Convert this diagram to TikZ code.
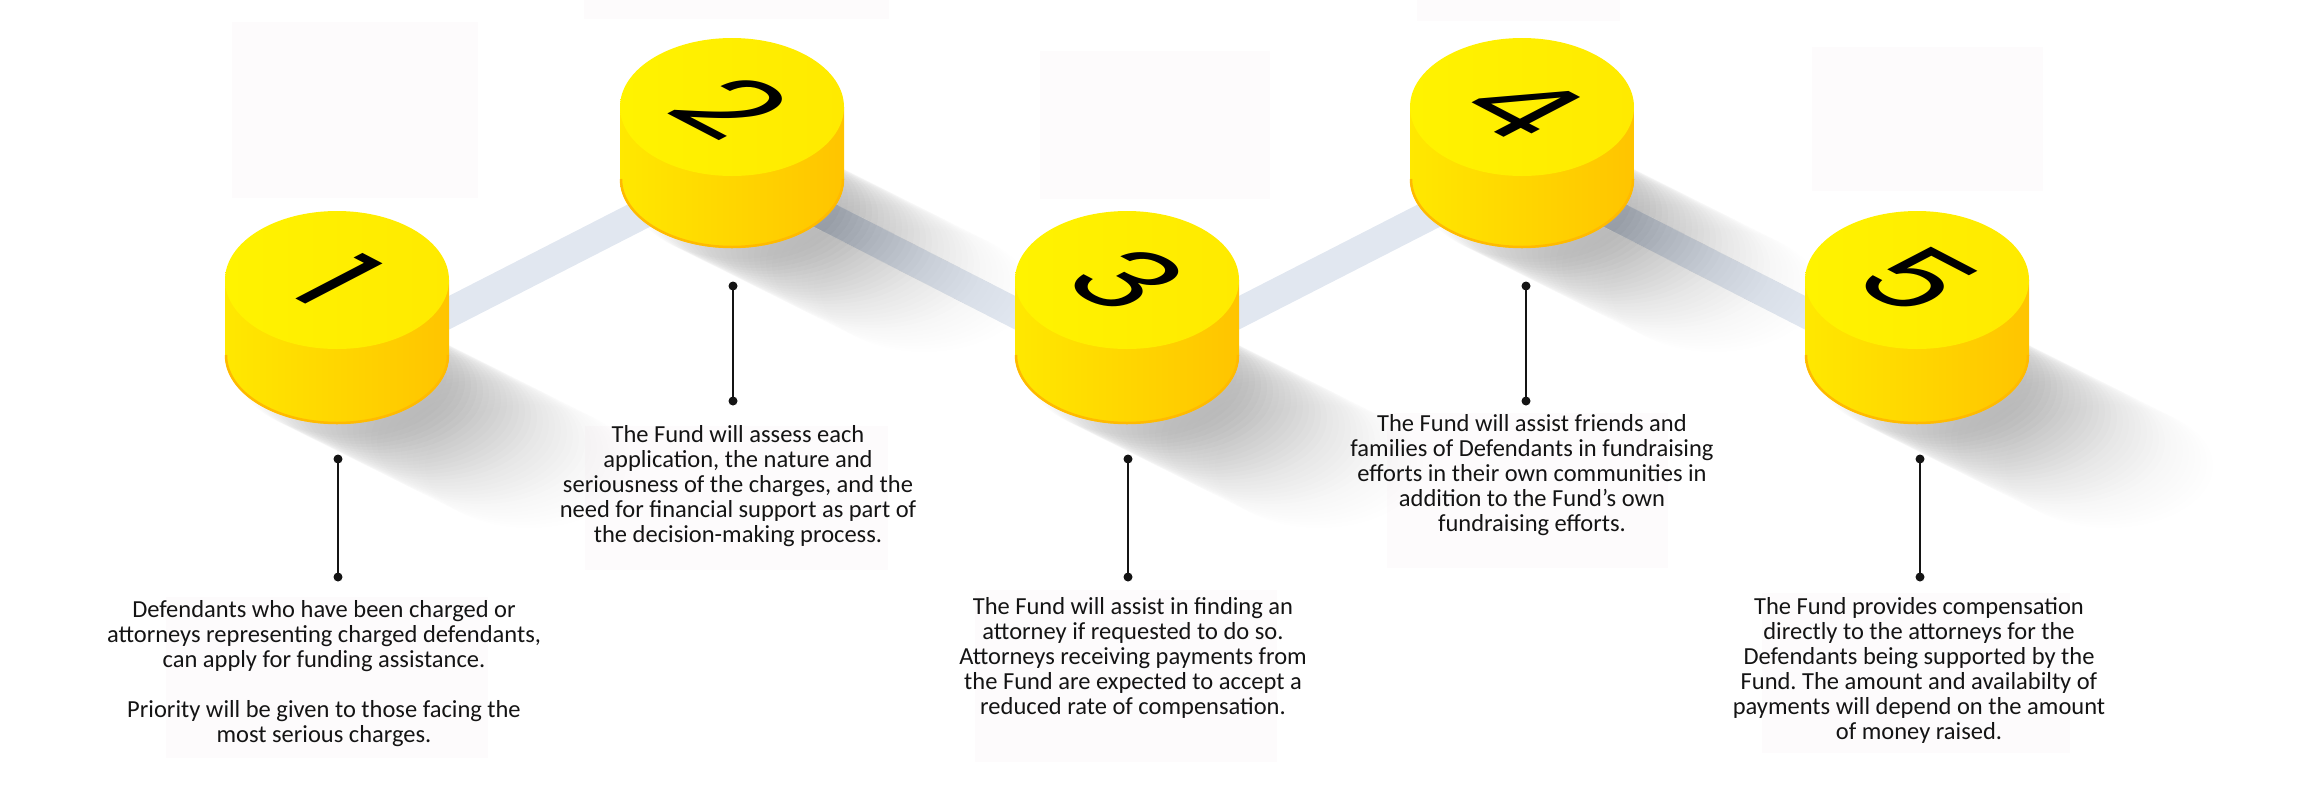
\documentclass[tikz,border=0pt]{standalone}
\usepackage{fontspec}
\setmainfont{Carlito}
\newfontfamily\digitfont{Poppins}
\usetikzlibrary{calc}
\frenchspacing

\definecolor{puckTopL}{HTML}{FFF300}
\definecolor{puckTopR}{HTML}{FFEA00}
\definecolor{puckSideL}{HTML}{FFE800}
\definecolor{puckSideR}{HTML}{FFC400}
\definecolor{puckRim}{HTML}{FFBA00}
\definecolor{trackBlue}{HTML}{E1E7F0}
\definecolor{ghostBox}{HTML}{FDFBFC}
\definecolor{inkText}{HTML}{141414}

\newcommand{\PuckRx}{112}
\newcommand{\PuckRy}{69}
\newcommand{\LowTop}{280}
\newcommand{\LowBase}{355}
\newcommand{\HighTop}{107}
\newcommand{\HighBase}{179}

% soft shadow thrown to the lower right of a puck
\newcommand{\puckshadow}[2]{%
  \foreach \t in {0,6,...,210} {
    \pgfmathsetmacro{\shadeop}{0.017*(1-\t/216)}
    \fill[black, opacity=\shadeop]
      ({#1+6+\t},{#2+18+0.5*\t}) ellipse [x radius=104pt, y radius=62pt];
  }%
}
% one yellow puck: #1 = centre x, #2 = top y, #3 = base y, #4 = digit
\newcommand{\puck}[4]{%
  \shade[left color=puckSideL, right color=puckSideR]
    ({#1-\PuckRx},#2) -- ({#1-\PuckRx},#3)
    arc[start angle=180, end angle=360, x radius=\PuckRx pt, y radius=\PuckRy pt]
    -- ({#1+\PuckRx},#2) -- cycle;
  \draw[puckRim, line width=2.5pt]
    ({#1-\PuckRx+1},#3)
    arc[start angle=180, end angle=360, x radius=\PuckRx pt-1pt, y radius=\PuckRy pt-1pt];
  \shade[left color=puckTopL, right color=puckTopR]
    (#1,#2) ellipse [x radius=\PuckRx pt, y radius=\PuckRy pt];
  \begin{scope}[shift={(#1,#2)}, cm={1,-0.52,1,0.52,(0,0)}]
    \node[digit] (n#4) at (0,0) {#4};
  \end{scope}%
}

\begin{document}
\begin{tikzpicture}[
  x=1pt, y=-1pt,
  ghost/.style={fill=ghostBox, draw=none},
  track/.style={draw=trackBlue, line width=30pt},
  leader/.style={draw=inkText, line width=2pt},
  tip/.style={fill=inkText},
  digit/.style={font=\digitfont\fontsize{107}{107}\selectfont, inner sep=0pt, transform shape},
  caption/.style={font=\fontsize{24.5}{25}\selectfont, text=inkText, align=center, anchor=north, inner sep=0pt}
]
\path[use as bounding box] (0,0) rectangle (2305,807);

% Faint placeholder boxes
\fill[ghost] (232,22) rectangle (478,198);
\fill[ghost] (584,0) rectangle (889,19);
\fill[ghost] (1040,51) rectangle (1270,199);
\fill[ghost] (1417,0) rectangle (1620,21);
\fill[ghost] (1812,47) rectangle (2043,191);
\fill[ghost] (166,597) rectangle (488,758);
\fill[ghost] (585,426) rectangle (888,570);
\fill[ghost] (975,590) rectangle (1277,762);
\fill[ghost] (1387,413) rectangle (1668,568);
\fill[ghost] (1762,593) rectangle (2070,753);

% Track joining the pucks
\coordinate (k1) at (337,370);
\coordinate (k2) at (732,168);
\coordinate (k3) at (1127,370);
\coordinate (k4) at (1522,168);
\coordinate (k5) at (1917,370);
\draw[track] (k1) -- (k2) -- (k3) -- (k4) -- (k5);

% Shadows
\puckshadow{337}{\LowBase}
\puckshadow{732}{\HighBase}
\puckshadow{1127}{\LowBase}
\puckshadow{1522}{\HighBase}
\puckshadow{1917}{\LowBase}

% Pucks
\puck{337}{\LowTop}{\LowBase}{1}
\puck{732}{\HighTop}{\HighBase}{2}
\puck{1127}{\LowTop}{\LowBase}{3}
\puck{1522}{\HighTop}{\HighBase}{4}
\puck{1917}{\LowTop}{\LowBase}{5}

% Leader lines
\foreach \i/\x/\ya/\yb in {1/338/459/577, 2/733/286/401, 3/1128/459/577, 4/1526/286/401, 5/1920/459/577} {
  \coordinate (p\i a) at (\x,\ya);
  \coordinate (p\i b) at (\x,\yb);
  \draw[leader] (p\i a) -- (p\i b);
  \fill[tip] (p\i a) circle[radius=4.5pt];
  \fill[tip] (p\i b) circle[radius=4.5pt];
}

% Captions
\node[caption] (t1) at (324,600)
  {Defendants who have been charged or\\
   attorneys representing charged defendants,\\
   can apply for funding assistance.\\[25pt]
   Priority will be given to those facing the\\
   most serious charges.};
\node[caption] (t2) at (738,425)
  {The Fund will assess each\\
   application, the nature and\\
   seriousness of the charges, and the\\
   need for financial support as part of\\
   the decision-making process.};
\node[caption] (t3) at (1133,597)
  {The Fund will assist in finding an\\
   attorney if requested to do so.\\
   Attorneys receiving payments from\\
   the Fund are expected to accept a\\
   reduced rate of compensation.};
\node[caption] (t4) at (1532,414)
  {The Fund will assist friends and\\
   families of Defendants in fundraising\\
   efforts in their own communities in\\
   addition to the Fund’s own\\
   fundraising efforts.};
\node[caption] (t5) at (1919,597)
  {The Fund provides compensation\\
   directly to the attorneys for the\\
   Defendants being supported by the\\
   Fund. The amount and availabilty of\\
   payments will depend on the amount\\
   of money raised.};

\end{tikzpicture}
\end{document}
